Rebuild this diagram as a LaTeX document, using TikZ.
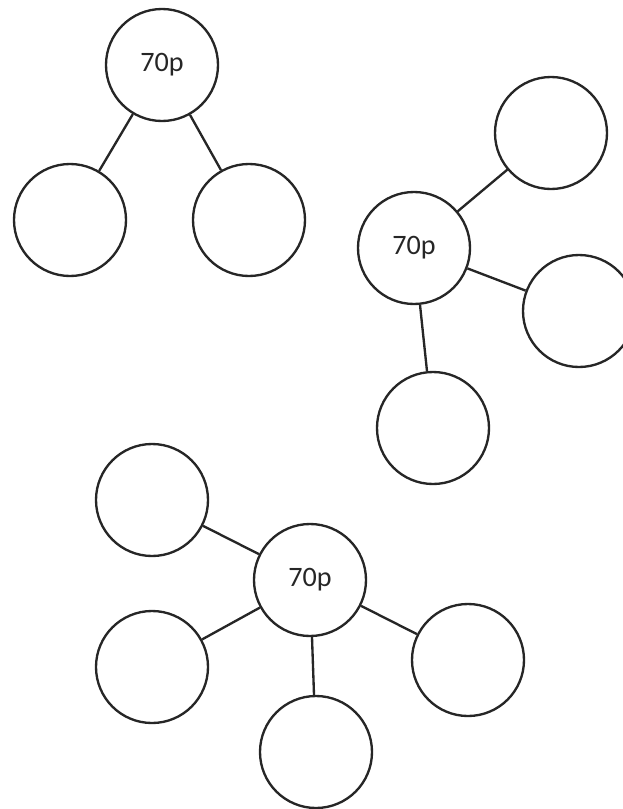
\documentclass[tikz,border=0pt]{standalone}
\usepackage{fontspec}
\setmainfont{Carlito}

\begin{document}
\begin{tikzpicture}[x=0.03cm,y=-0.03cm,
  bubble/.style={circle,draw=black!85,line width=2pt,minimum size=3.36cm,inner sep=0pt,
    font=\fontsize{24}{28}\selectfont,text=black!85},
  link/.style={draw=black!85,line width=2pt}]
  \useasboundingbox (0,0) rectangle (623,809);
  % split in two
  \node[bubble] (a) at (162,65) {70p};
  \node[bubble] (a1) at (70,220) {};
  \node[bubble] (a2) at (249,220) {};
  % split in three
  \node[bubble] (b) at (414,248) {70p};
  \node[bubble] (b1) at (551,133) {};
  \node[bubble] (b2) at (579,311) {};
  \node[bubble] (b3) at (433,428) {};
  % split in four
  \node[bubble] (c) at (310,580) {70p};
  \node[bubble] (c1) at (152,500) {};
  \node[bubble] (c2) at (152,667) {};
  \node[bubble] (c3) at (316,752) {};
  \node[bubble] (c4) at (468,660) {};
  \foreach \x in {a1,a2} \draw[link] (a) -- (\x);
  \foreach \x in {b1,b2,b3} \draw[link] (b) -- (\x);
  \foreach \x in {c1,c2,c3,c4} \draw[link] (c) -- (\x);
\end{tikzpicture}
\end{document}
